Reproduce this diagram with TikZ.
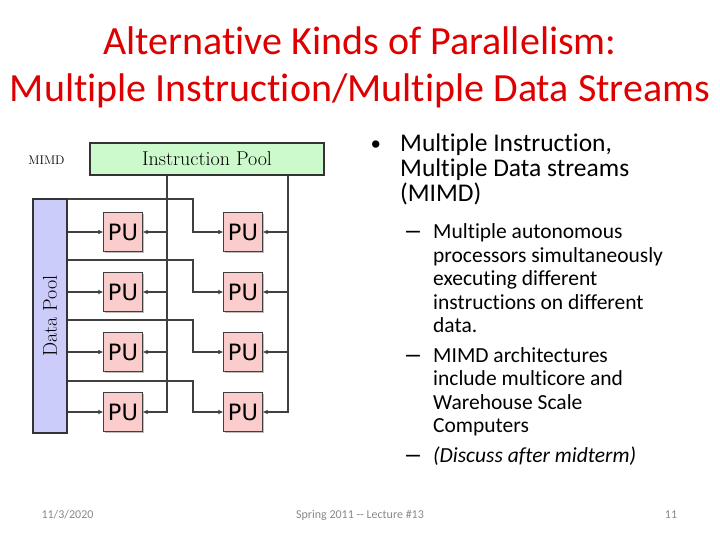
\documentclass[tikz,border=0pt]{standalone}
\usepackage{fontspec}
\newfontfamily\calibri[Ligatures=NoCommon]{Carlito}
\newfontfamily\dejavu{DejaVu Sans}
\newfontfamily\arial{Liberation Sans}
\usetikzlibrary{arrows.meta,shadows}
\definecolor{titlered}{RGB}{222,0,0}
\definecolor{ipgreen}{RGB}{204,250,204}
\definecolor{dpblue}{RGB}{204,204,250}
\definecolor{pupink}{RGB}{250,204,204}
\definecolor{wire}{RGB}{64,64,64}
\definecolor{foot}{RGB}{137,137,137}
\begin{document}
\begin{tikzpicture}[x=1pt,y=-1pt,
  pool/.style={draw=black!80, line width=1.2pt, inner sep=0pt},
  pubox/.style={draw=black!75, line width=1.2pt, fill=pupink, minimum width=39pt, minimum height=39pt, inner sep=0pt,
    font=\dejavu\fontsize{22.5}{22.5}\selectfont,
    drop shadow={shadow xshift=1.5pt, shadow yshift=-1.5pt, fill=black, opacity=0.25}},
  wireline/.style={wire, line width=1.6pt},
  arr/.style={wireline, -{Stealth[length=5pt,width=4.5pt]}},
  title/.style={font=\calibri\fontsize{40}{40}\selectfont, text=titlered, anchor=base, inner sep=0pt},
  mainitem/.style={font=\calibri\fontsize{25.5}{25.5}\selectfont, anchor=base west, inner sep=0pt},
  subitem/.style={font=\calibri\fontsize{21.5}{21.5}\selectfont, anchor=base west, inner sep=0pt},
  dashmark/.style={font=\arial\fontsize{25}{25}\selectfont, anchor=base west, inner sep=0pt},
  footer/.style={font=\calibri\fontsize{12}{12}\selectfont, text=foot, anchor=base, inner sep=0pt}]
\useasboundingbox (0,0) rectangle (720,540);

% title
\node[title] (t1) at (360,55) {Alternative Kinds of Parallelism:};
\node[title] (t2) at (360,102) {Multiple Instruction/Multiple Data Streams};

% diagram
\node[font=\fontsize{12.5}{12.5}\selectfont, inner sep=0pt] (mimd) at (46.5,160) {MIMD};
\node[pool, fill=ipgreen, minimum width=234pt, minimum height=32pt, font=\fontsize{20}{20}\selectfont] (ip) at (207,159) {Instruction Pool};
\node[pool, fill=dpblue, minimum width=34pt, minimum height=234pt] (dp) at (50,316) {};
\node[rotate=90, font=\fontsize{20}{20}\selectfont, inner sep=0pt] (dplabel) at (dp.center) {Data Pool};

\foreach \r/\y in {1/232,2/292,3/352,4/412} {
  \node[pubox] (pl\r) at (123,\y) {PU};
  \node[pubox] (pr\r) at (243,\y) {PU};
}

\coordinate (c1) at (167,0);
\coordinate (c2) at (288,0);
\coordinate (cb) at (193,0);
\coordinate (h1) at (0,199);
\coordinate (h2) at (0,260);
\coordinate (h3) at (0,320);
\coordinate (h4) at (0,381);

\draw[arr] (ip.south -| c1) |- (pl4.east);
\draw[arr] (ip.south -| c2) |- (pr4.east);
\foreach \r in {1,2,3} {
  \draw[arr] (pl\r -| c1) -- (pl\r.east);
  \draw[arr] (pr\r -| c2) -- (pr\r.east);
}
\foreach \r in {1,2,3,4} {
  \draw[arr] (pl\r -| dp.east) -- (pl\r.west);
  \draw[arr] (h\r -| dp.east) -| (cb |- pr\r) -- (pr\r.west);
}

% text
\node[font=\arial\fontsize{27}{27}\selectfont, anchor=base west, inner sep=0pt] (bul) at (371,154) {•};
\node[mainitem] (m1) at (400,152) {Multiple Instruction,};
\node[mainitem] (m2) at (400,177) {Multiple Data streams};
\node[mainitem] (m3) at (400,202) {(MIMD)};

\node[dashmark] (d1) at (406,238) {–};
\node[subitem] (s1) at (433,238) {Multiple autonomous};
\node[subitem] (s2) at (433,262) {processors simultaneously};
\node[subitem] (s3) at (433,285.5) {executing different};
\node[subitem] (s4) at (433,309) {instructions on different};
\node[subitem] (s5) at (433,332.5) {data.};
\node[dashmark] (d2) at (406,362) {–};
\node[subitem] (s6) at (433,362) {MIMD architectures};
\node[subitem] (s7) at (433,385.5) {include multicore and};
\node[subitem] (s8) at (433,409) {Warehouse Scale};
\node[subitem] (s9) at (433,432.5) {Computers};
\node[dashmark] (d3) at (406,462.5) {–};
\node[subitem] (s10) at (433,462.5) {\itshape (Discuss after midterm)};

% footer
\node[footer] (f1) at (67.5,518) {11/3/2020};
\node[footer] (f2) at (360,518) {Spring 2011 {-}{-} Lecture \#13};
\node[footer] (f3) at (671,518) {11};
\end{tikzpicture}
\end{document}
